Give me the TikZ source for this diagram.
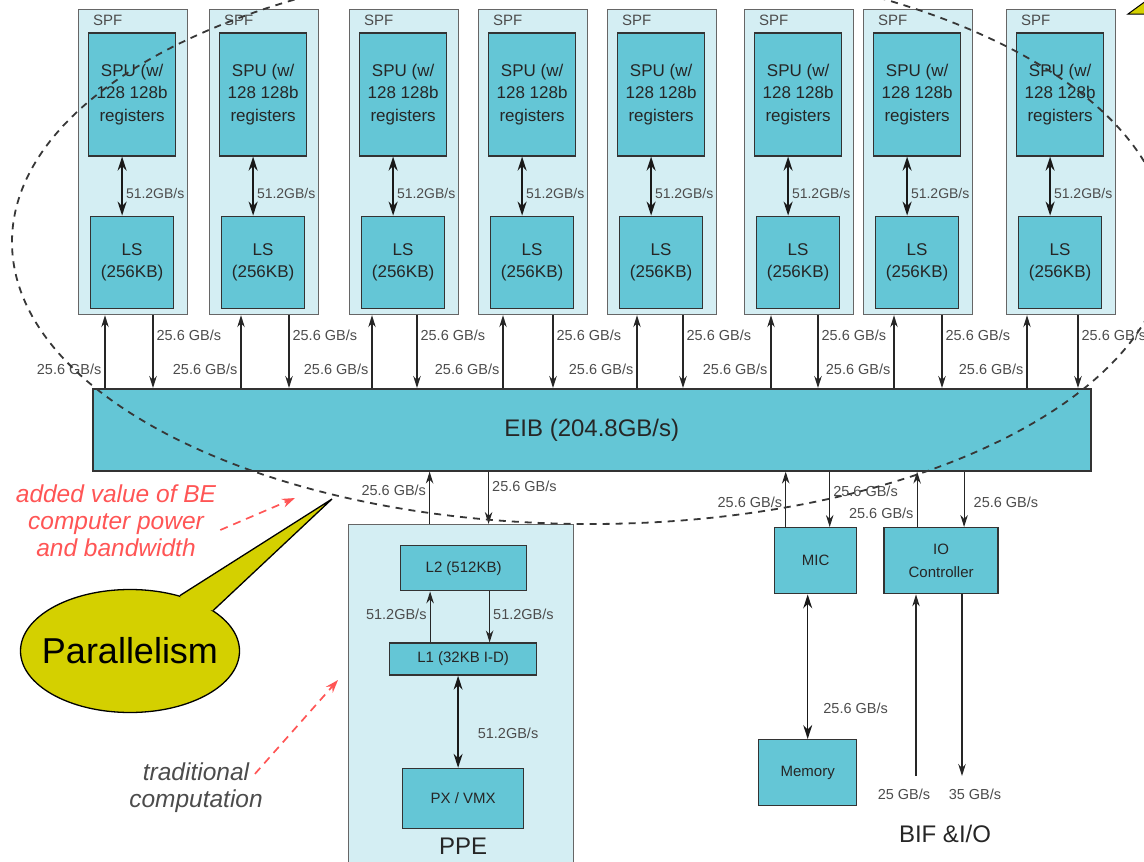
\documentclass[tikz,border=0pt]{standalone}
\usepackage{fontspec}
\setmainfont{Liberation Sans}
\usetikzlibrary{shapes.geometric, positioning, arrows.meta, calc}

\definecolor{unitblue}{RGB}{100,198,214}
\definecolor{spfblue}{RGB}{212,238,243}
\definecolor{callout}{RGB}{212,208,0}
\definecolor{notered}{RGB}{255,85,85}
\definecolor{linegray}{RGB}{55,55,55}

\tikzset{
    spfbox/.style={
        rectangle, draw=gray!80!black, line width=1.2pt, fill=spfblue, anchor=north west, inner sep=0pt
    },
    unit/.style={
        rectangle, draw=black!80, line width=1.6pt, fill=unitblue, align=center, text=black!85, inner sep=0pt, font=\fontsize{17}{22.5}\selectfont
    },
    smallunit/.style={
        rectangle, draw=black!80, line width=1.4pt, fill=unitblue, align=center, text=black!85, inner sep=0pt, font=\fontsize{15}{23}\selectfont
    },
    rate/.style={
        font=\fontsize{14.5}{17}\selectfont, text=black!70, inner sep=3pt
    },
    arrow/.style={
        line width=1.2pt, draw=black!85, -{Stealth[length=12pt,width=7.5pt]}
    },
    dblarrow/.style={
        line width=1.8pt, draw=black!90, {Stealth[length=14pt,width=9pt]}-{Stealth[length=14pt,width=9pt]}
    },
    note/.style={
        font=\itshape\fontsize{24.5}{27}\selectfont, align=center, inner sep=0pt
    },
    notearrow/.style={
        draw=notered, line width=1.7pt, dash pattern=on 8pt off 6pt, -{Stealth[length=13pt,width=9pt]}
    },
    bigtext/.style={
        font=\fontsize{24}{28}\selectfont, text=black!85, inner sep=0pt
    }
}

\begin{document}
\begin{tikzpicture}[x=1pt, y=-1pt]
        \path[use as bounding box, clip] (0,0) rectangle (1144,862);

        % Bus
        \node (eib) [unit, minimum width=998pt, minimum height=82pt, anchor=north west, font=\fontsize{24}{28}\selectfont] at (92,388) {EIB (204.8GB/s)};

        % SPF units
        \foreach \x/\upx/\dnx [count=\i] in {78/27/75, 209/32/80, 349/23/68, 478/25/75, 607/30/76, 744/27/74, 863/31/79, 1006/21/72}
        {
            \node (spf\i) [spfbox, minimum width=109pt, minimum height=305pt] at (\x,9) {};
            \node [rate, font=\fontsize{15}{18}\selectfont, anchor=north west, inner sep=0pt] at ($(spf\i.north west)+(15,6)$) {SPF};
            \node (spu\i) [unit, minimum width=87pt, minimum height=123pt, below=23pt of spf\i.north, xshift=-1pt] {SPU (w/\\128 128b\\registers};
            \node (ls\i) [unit, minimum width=83pt, minimum height=92pt, below=59pt of spu\i] {LS\\(256KB)};
            \draw [dblarrow] ($(spu\i.south)+(-10,0)$) -- ($(ls\i.north)+(-10,0)$) node [rate, midway, right, yshift=-7pt, font=\fontsize{14}{16}\selectfont] {51.2GB/s};
            \draw [arrow] ($(spf\i.south west |- eib.north)+(\upx,0)$) -- ($(spf\i.south west)+(\upx,0)$) node [rate, pos=0.26, left] {25.6 GB/s};
            \draw [arrow] ($(spf\i.south west)+(\dnx,0)$) -- ($(spf\i.south west |- eib.north)+(\dnx,0)$) node [rate, pos=0.27, right] {25.6 GB/s};
        }

        % PPE
        \node (ppe) [spfbox, minimum width=225pt, minimum height=345pt] at (348,524) {};
        \node (l2) [smallunit, minimum width=126pt, minimum height=45pt, below=21pt of ppe.north, xshift=2.5pt] {L2 (512KB)};
        \node (l1) [smallunit, minimum width=147pt, minimum height=32pt, below=51pt of l2, xshift=-0.5pt] {L1 (32KB I-D)};
        \node (px) [smallunit, minimum width=121pt, minimum height=60pt, below=92pt of l1] {PX / VMX};
        \node (ppetext) [bigtext, below=9pt of px] {PPE};

        \draw [arrow] ($(l1.north)+(-33,0)$) -- ($(l1.north |- l2.south)+(-33,0)$) node [rate, pos=0.55, left] {51.2GB/s};
        \draw [arrow] ($(l2.south)+(26,0)$) -- ($(l2.south |- l1.north)+(26,0)$) node [rate, pos=0.45, right] {51.2GB/s};
        \draw [dblarrow, line width=1.4pt] ($(l1.south)+(-5,0)$) -- ($(l1.south |- px.north)+(-5,0)$) node [rate, pos=0.62, right=16pt] {51.2GB/s};
        \draw [arrow] ($(ppe.north)+(-31.5,0)$) -- ($(ppe.north |- eib.south)+(-31.5,0)$) node [rate, pos=0.65, left] {25.6 GB/s};
        \draw [arrow] ($(ppe.north |- eib.south)+(27.5,0)$) -- ($(ppe.north)+(27.5,0)$) node [rate, pos=0.28, right] {25.6 GB/s};

        % MIC, memory and IO
        \node (mic) [smallunit, minimum width=82pt, minimum height=66pt, anchor=north west] at (774,527) {MIC};
        \node (io) [smallunit, minimum width=114pt, minimum height=66pt, right=26pt of mic] {IO\\Controller};
        \node (mem) [smallunit, minimum width=98pt, minimum height=66pt, anchor=north west] at (758,739) {Memory};

        \draw [arrow] ($(mic.north)+(-30,0)$) -- ($(mic.north |- eib.south)+(-30,0)$) node [rate, pos=0.44, left] {25.6 GB/s};
        \draw [arrow] ($(mic.north |- eib.south)+(14,0)$) -- ($(mic.north)+(14,0)$) node [rate, pos=0.35, right] {25.6 GB/s};
        \draw [arrow] ($(io.north)+(-24,0)$) -- ($(io.north |- eib.south)+(-24,0)$) node [rate, pos=0.25, left] {25.6 GB/s};
        \draw [arrow] ($(io.north |- eib.south)+(23,0)$) -- ($(io.north)+(23,0)$) node [rate, pos=0.56, right=6pt] {25.6 GB/s};
        \draw [dblarrow, line width=1.4pt] ($(mic.south)+(-8,0)$) -- ($(mic.south |- mem.north)+(-8,0)$) node [rate, pos=0.79, right=12pt] {25.6 GB/s};

        \coordinate (bifin) at (916,776);
        \coordinate (bifout) at (962,776);
        \draw [arrow] (bifin) -- (bifin |- io.south);
        \draw [arrow] (io.south -| bifout) -- (bifout);
        \node [rate] at (904,794) {25 GB/s};
        \node [rate] at (975,794) {35 GB/s};
        \node [bigtext] at (945,834) {BIF \&I/O};

        % Dashed outline
        \draw [linegray, line width=1.8pt, dash pattern=on 7pt off 6pt] (590,242) ellipse [x radius=578, y radius=282];

        % Callout
        \node (par) [ellipse, draw=black, line width=1.3pt, fill=callout, minimum width=219pt, minimum height=123pt, inner sep=0pt, font=\fontsize{36}{40}\selectfont] at (130,651) {\makebox[0pt]{Parallelism}};
        \coordinate (partip) at (332,499);
        \fill [callout] (par.48) -- (partip) -- (par.26) -- ($(par.37)!0.15!(par.center)$) -- cycle;
        \draw [line width=1.3pt] (par.48) -- (partip) -- (par.26);
        \filldraw [fill=callout, draw=black, line width=1pt] (1128,14) -- (1150,-2) -- (1150,14) -- cycle;

        % Notes
        \node (bevalue) [note, text=notered] at (116,521) {added value of BE\\computer power\\and bandwidth};
        \coordinate (betip) at (295,498);
        \draw [notearrow] ($(bevalue.east)+(4,9)$) -- (betip);
        \node (trad) [note, text=black!70] at (196,788) {traditional\\computation};
        \coordinate (tradtip) at (338,680);
        \draw [notearrow] ($(trad.north east)+(-8,11)$) -- (tradtip);
    \end{tikzpicture}
\end{document}
